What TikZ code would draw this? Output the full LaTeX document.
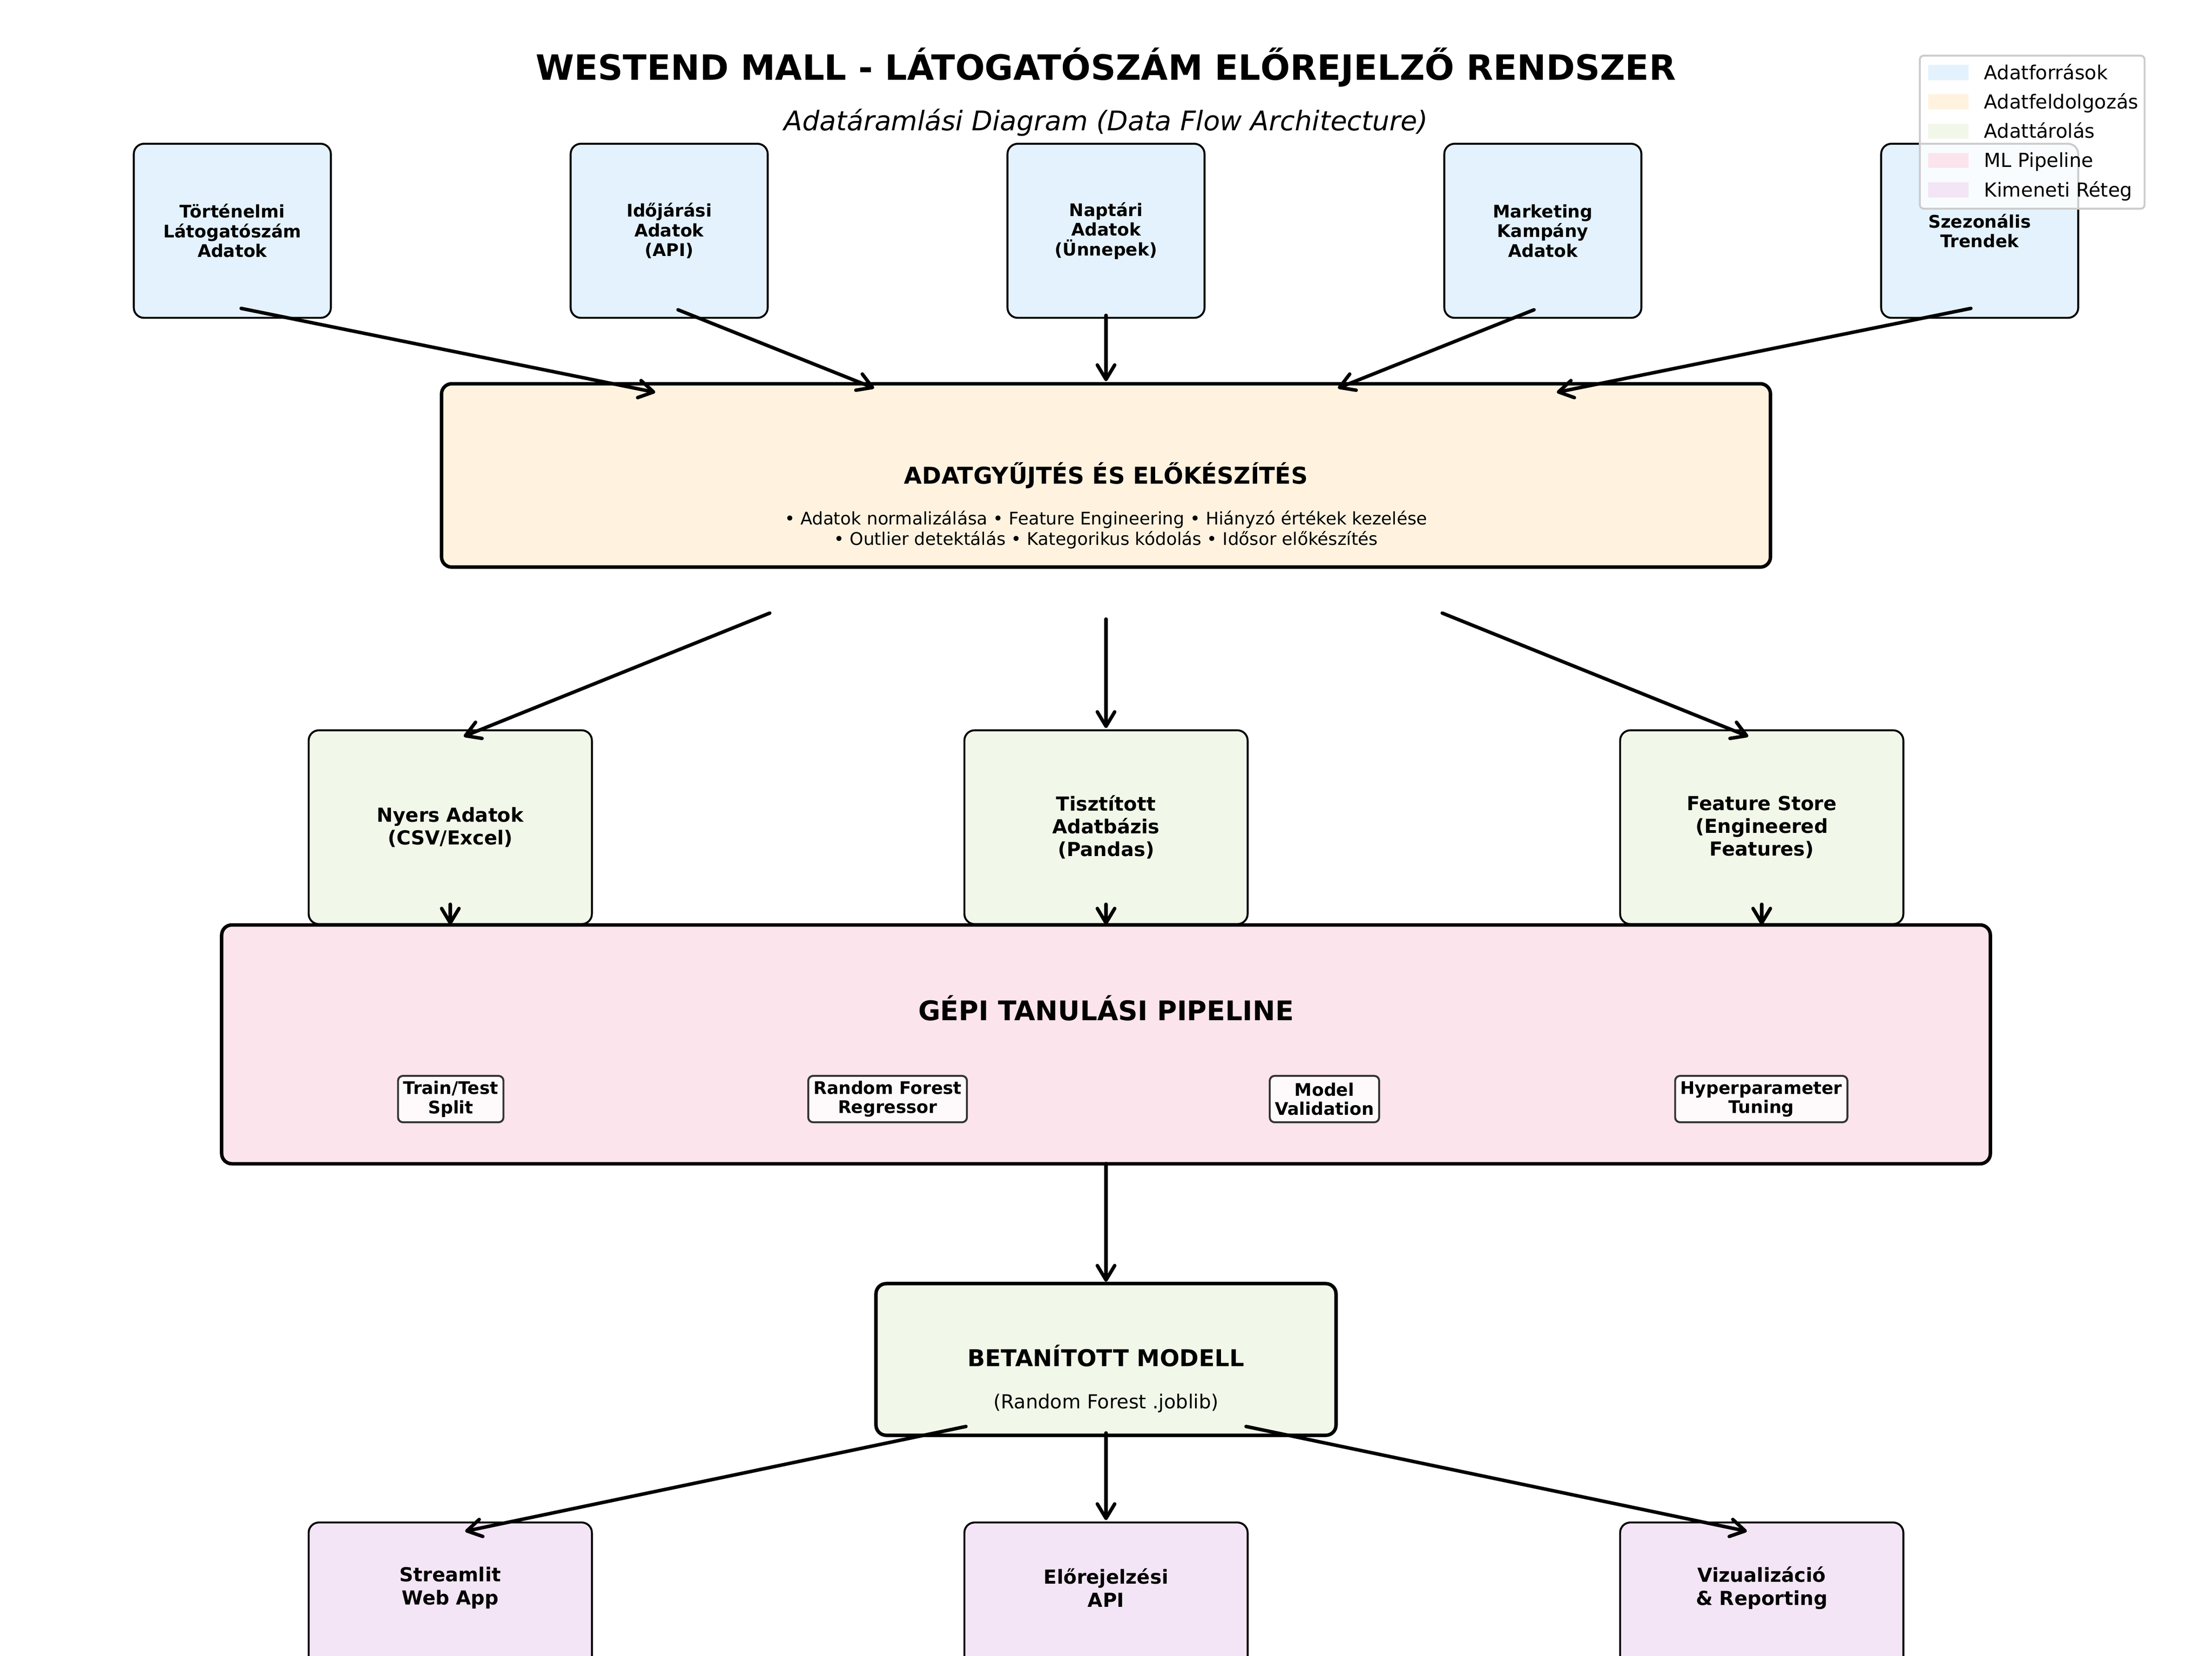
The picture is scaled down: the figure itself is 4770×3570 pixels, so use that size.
\documentclass[tikz,border=0pt]{standalone}
\usepackage{fontspec}
\setmainfont{DejaVu Sans}
\usetikzlibrary{arrows.meta}
\definecolor{srcC}{HTML}{E3F2FD}
\definecolor{procC}{HTML}{FFF3E0}
\definecolor{storC}{HTML}{F1F8E9}
\definecolor{pipeC}{HTML}{FCE4EC}
\definecolor{outC}{HTML}{F3E5F5}
\colorlet{subC}{white!80!pipeC}
\colorlet{subE}{black!80}
\colorlet{legE}{black!20}
\begin{document}
\begin{tikzpicture}[x=0.24pt,y=-0.24pt,
  box/.style={draw=black, rounded corners=5.3pt, inner sep=0pt, align=center, line width=1pt},
  thickbox/.style={box, line width=1.8pt},
  srcbox/.style={box, fill=srcC, minimum width=102pt, minimum height=90.1pt, font=\fontsize{9}{10.2}\selectfont\bfseries},
  storbox/.style={box, fill=storC, minimum width=146.6pt, minimum height=100.3pt, font=\fontsize{10}{11.7}\selectfont\bfseries},
  outbox/.style={box, fill=outC, minimum width=146.6pt, minimum height=100.3pt},
  outtext/.style={align=center, inner sep=0pt, font=\fontsize{10}{11.9}\selectfont\bfseries},
  subbox/.style={draw=subE, fill=subC, line width=1pt, rounded corners=2.5pt, inner xsep=2.7pt, inner ysep=0pt, minimum height=24pt, align=center, font=\fontsize{9}{9.9}\selectfont\bfseries},
  arr/.style={line width=1.8pt, line cap=round, line join=round, -{Straight Barb[length=7.5pt,width=9pt,line cap=round,line join=round]}},
  legpatch/.style={fill=#1, inner sep=0pt, minimum width=20.95pt, minimum height=7.8pt},
  leglabel/.style={anchor=base west, inner sep=0pt, font=\fontsize{10}{12}\selectfont}
]
\useasboundingbox (0,0) rectangle (4770,3570);
\clip (0,0) rectangle (4770,3570);
\fill[white] (0,0) rectangle (4770,3570);

% titles
\node[anchor=base, inner sep=0pt, font=\fontsize{18}{21}\selectfont\bfseries] (title) at (2385,172) {WESTEND MALL - LÁTOGATÓSZÁM ELŐREJELZŐ RENDSZER};
\node[anchor=base, inner sep=0pt, font=\fontsize{14}{17}\selectfont\itshape] (subtitle) at (2385,281) {Adatáramlási Diagram (Data Flow Architecture)};

% source boxes
\node[srcbox] (src1) at (501,497.7) {Történelmi\\Látogatószám\\Adatok};
\node[srcbox] (src2) at (1443,497.7) {Időjárási\\Adatok\\(API)};
\node[srcbox] (src3) at (2385,497.7) {Naptári\\Adatok\\(Ünnepek)};
\node[srcbox] (src4) at (3327,497.7) {Marketing\\Kampány\\Adatok};
\node[srcbox] (src5) at (4269,497.7) {Szezonális\\Trendek};

% processing box
\node[thickbox, fill=procC, minimum width=687.8pt, minimum height=94.9pt] (proc) at (2385,1025.2) {};
\node[anchor=base, inner sep=0pt, font=\fontsize{12}{14}\selectfont\bfseries] (procT) at (2385,1043.8) {ADATGYŰJTÉS ÉS ELŐKÉSZÍTÉS};
\node[anchor=base, inner sep=0pt, font=\fontsize{9}{10.5}\selectfont] (procL1) at (2385,1131.8) {• Adatok normalizálása • Feature Engineering • Hiányzó értékek kezelése};
\node[anchor=base, inner sep=0pt, font=\fontsize{9}{10.5}\selectfont] (procL2) at (2385,1175.8) {• Outlier detektálás • Kategorikus kódolás • Idősor előkészítés};

% storage boxes
\node[storbox] (stor1) at (971,1783.75) {Nyers Adatok\\(CSV/Excel)};
\node[storbox] (stor2) at (2385,1783.75) {Tisztított\\Adatbázis\\(Pandas)};
\node[storbox] (stor3) at (3799,1783.75) {Feature Store\\(Engineered\\Features)};

% pipeline
\node[thickbox, fill=pipeC, minimum width=915.4pt, minimum height=123.6pt] (pipe) at (2385,2252) {};
\node[anchor=base, inner sep=0pt, font=\fontsize{14}{17}\selectfont\bfseries] (pipeT) at (2385,2200) {GÉPI TANULÁSI PIPELINE};
\node[subbox] (sub1) at (972,2370) {Train/Test\\Split};
\node[subbox] (sub2) at (1914,2370) {Random Forest\\Regressor};
\node[subbox] (sub3) at (2856,2370) {Model\\Validation};
\node[subbox] (sub4) at (3798,2370) {Hyperparameter\\Tuning};

% model
\node[thickbox, fill=storC, minimum width=238.1pt, minimum height=78.5pt] (model) at (2385,2931.5) {};
\node[anchor=base, inner sep=0pt, font=\fontsize{12}{14}\selectfont\bfseries] (modelT) at (2385,2946) {BETANÍTOTT MODELL};
\node[anchor=base, inner sep=0pt, font=\fontsize{10}{12}\selectfont] (modelS) at (2385,3037) {(Random Forest .joblib)};

% outputs
\node[outbox] (out1) at (971,3492) {};
\node[outbox] (out2) at (2385,3492) {};
\node[outbox] (out3) at (3799,3492) {};
\node[outtext] (out1t) at (971,3424) {Streamlit\\Web App};
\node[outtext] (out2t) at (2385,3424) {Előrejelzési\\API};
\node[outtext] (out3t) at (3799,3424) {Vizualizáció\\\& Reporting};

% connector end points
\coordinate (a1s) at (520,665);   \coordinate (a1e) at (1413,846);
\coordinate (a2s) at (1462,668);  \coordinate (a2e) at (1885,837);
\coordinate (a3s) at (2385,680);  \coordinate (a3e) at (2385,822);
\coordinate (a4s) at (3308,668);  \coordinate (a4e) at (2885,837);
\coordinate (a5s) at (4250,665);  \coordinate (a5e) at (3357,846);
\coordinate (b1s) at (1660,1322); \coordinate (b1e) at (1000,1588);
\coordinate (b2s) at (2385,1335); \coordinate (b2e) at (2385,1570);
\coordinate (b3s) at (3110,1322); \coordinate (b3e) at (3770,1588);
\coordinate (c1s) at (971,1950);  \coordinate (c1e) at (971,1994);
\coordinate (c2s) at (2385,1950); \coordinate (c2e) at (2385,1994);
\coordinate (c3s) at (3799,1950); \coordinate (c3e) at (3799,1994);
\coordinate (ps) at (2385,2509);  \coordinate (pe) at (2385,2764);
\coordinate (d1s) at (2083,3076); \coordinate (d1e) at (1003,3302);
\coordinate (d2s) at (2385,3090); \coordinate (d2e) at (2385,3278);
\coordinate (d3s) at (2687,3076); \coordinate (d3e) at (3767,3302);

\foreach \s/\e in {a1s/a1e,a2s/a2e,a3s/a3e,a4s/a4e,a5s/a5e,b1s/b1e,b2s/b2e,b3s/b3e,c1s/c1e,c2s/c2e,c3s/c3e,ps/pe,d1s/d1e,d2s/d2e,d3s/d3e}
  \draw[arr] (\s) -- (\e);

% legend
\node[draw=legE, fill=white, fill opacity=0.8, line width=1pt, rounded corners=2pt, inner sep=0pt, minimum width=116.3pt, minimum height=79.2pt] (legend) at (4382.25,285) {};
\node[legpatch=srcC]  (leg1) at (4201.4,156.3) {};
\node[legpatch=procC] (leg2) at (4201.4,219.6) {};
\node[legpatch=storC] (leg3) at (4201.4,282.9) {};
\node[legpatch=pipeC] (leg4) at (4201.4,346.2) {};
\node[legpatch=outC]  (leg5) at (4201.4,409.5) {};
\node[leglabel] (legt1) at (4278,171) {Adatforrások};
\node[leglabel] (legt2) at (4278,234.3) {Adatfeldolgozás};
\node[leglabel] (legt3) at (4278,297.6) {Adattárolás};
\node[leglabel] (legt4) at (4278,360.9) {ML Pipeline};
\node[leglabel] (legt5) at (4278,424.2) {Kimeneti Réteg};
\end{tikzpicture}
\end{document}
